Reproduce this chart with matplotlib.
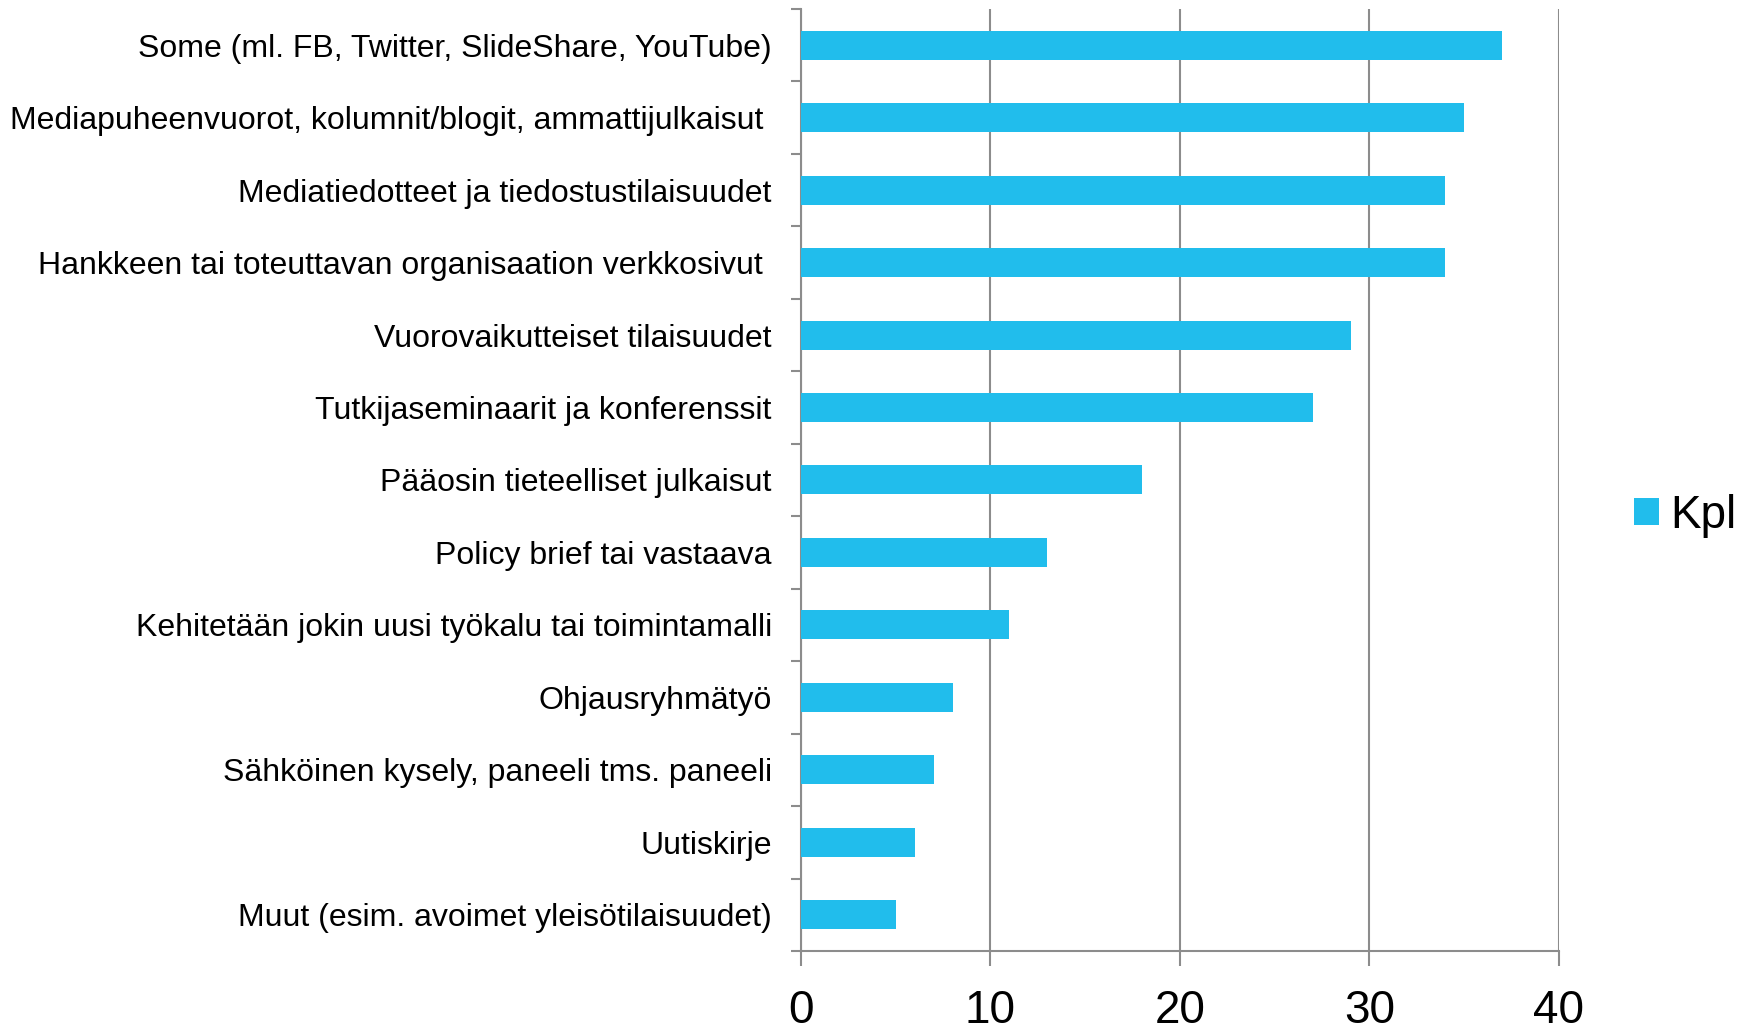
import matplotlib

matplotlib.use("Agg")
import matplotlib.pyplot as plt
import numpy as np

categories = [
    "Some (ml. FB, Twitter, SlideShare, YouTube)",
    "Mediapuheenvuorot, kolumnit/blogit, ammattijulkaisut ",
    "Mediatiedotteet ja tiedostustilaisuudet",
    "Hankkeen tai toteuttavan organisaation verkkosivut ",
    "Vuorovaikutteiset tilaisuudet",
    "Tutkijaseminaarit ja konferenssit",
    "Pääosin tieteelliset julkaisut",
    "Policy brief tai vastaava",
    "Kehitetään jokin uusi työkalu tai toimintamalli",
    "Ohjausryhmätyö",
    "Sähköinen kysely, paneeli tms. paneeli",
    "Uutiskirje",
    "Muut (esim. avoimet yleisötilaisuudet)",
]
kpl = [37, 35, 34, 34, 29, 27, 18, 13, 11, 8, 7, 6, 5]
x_ticks = [0, 10, 20, 30, 40]

BAR = "#21BDEC"
GRID = "#8C8C8C"

plt.rcParams["font.family"] = ["Liberation Sans", "DejaVu Sans"]

fig = plt.figure(figsize=(17.52, 10.29), dpi=100)
ax = fig.add_axes([0.4572, 0.0758, 0.8898 - 0.4572, 0.9913 - 0.0758])

n = len(categories)
y = np.arange(n)[::-1]
ax.barh(y, kpl, height=0.4, color=BAR, label="Kpl", zorder=3)

ax.set_xlim(0, 40)
ax.set_ylim(-0.5, n - 0.5)
ax.set_xticks(x_ticks)
ax.set_xticklabels([str(t) for t in x_ticks])
ax.tick_params(axis="x", length=11, width=1.5, color=GRID, labelsize=33, pad=16)

# category labels sit between boundary ticks
ax.set_yticks(y)
ax.set_yticklabels(categories)
ax.set_yticks(np.arange(-0.5, n, 1.0), minor=True)
ax.tick_params(axis="y", which="major", length=0, labelsize=23, pad=21)
ax.tick_params(axis="y", which="minor", length=7.5, width=1.5, color=GRID)

ax.grid(axis="x", color=GRID, linewidth=1.5, zorder=0)
for side in ("top", "right"):
    ax.spines[side].set_visible(False)
for side in ("left", "bottom"):
    ax.spines[side].set_color(GRID)
    ax.spines[side].set_linewidth(1.5)

ax.legend(loc="center left", bbox_to_anchor=(1.099, 0.462), frameon=False,
          fontsize=33, borderpad=0, borderaxespad=0,
          handlelength=0.55, handleheight=0.55, handletextpad=0.25)

fig.savefig("out.png", dpi=100)
